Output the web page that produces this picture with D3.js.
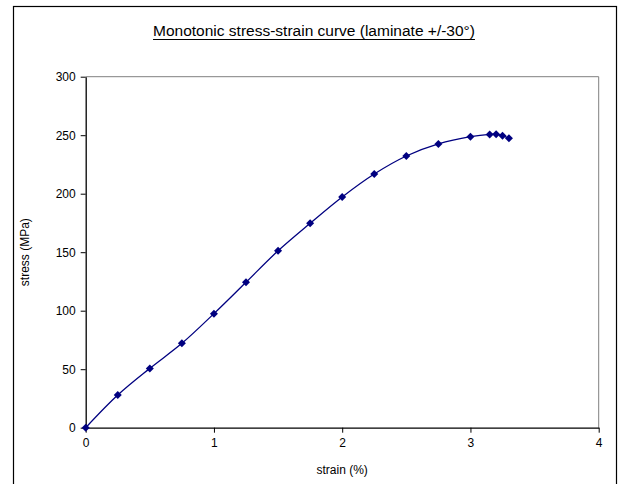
<!DOCTYPE html>
<html>
<head>
<meta charset="utf-8">
<script src="https://cdn.jsdelivr.net/npm/d3@7"></script>
<style>
  body { margin: 0; background: #fff; }
  text { font-family: "Liberation Sans", Arial, sans-serif; fill: #000; }
</style>
</head>
<body>
<div id="chart"></div>
<script>
const strain = [0, 0.25, 0.5, 0.75, 1.0, 1.25, 1.5, 1.75, 2.0, 2.25, 2.5, 2.75, 3.0, 3.15, 3.2, 3.25, 3.3];
const stress = [0, 27.9, 50.7, 72.1, 97.5, 124.3, 151.2, 174.7, 197.2, 216.8, 232.2, 242.5, 248.7, 250.7, 250.8, 249.6, 247.4];
const xTicks = [0, 1, 2, 3, 4];
const yTicks = [0, 50, 100, 150, 200, 250, 300];

const data = strain.map((s, i) => ({ strain: s, stress: stress[i] }));

const W = 618, H = 484;
const plot = { left: 85.7, right: 598.7, top: 76.7, bottom: 427.7 };

const svg = d3.select("#chart").append("svg")
  .attr("width", W)
  .attr("height", H);

// outer frame
svg.append("rect")
  .attr("x", 13.5).attr("y", 6.5)
  .attr("width", 603).attr("height", 490)
  .attr("fill", "none")
  .attr("stroke", "#000")
  .attr("stroke-width", 1.2);

const x = d3.scaleLinear().domain([0, 4]).range([plot.left, plot.right]);
const y = d3.scaleLinear().domain([0, 300]).range([plot.bottom, plot.top]);

// plot area top/right border
svg.append("path")
  .attr("d", `M${plot.left},${plot.top}H${plot.right}V${plot.bottom}`)
  .attr("fill", "none")
  .attr("stroke", "#808080")
  .attr("stroke-width", 1);

const xAxis = svg.append("g")
  .attr("transform", `translate(0,${plot.bottom})`)
  .call(d3.axisBottom(x).tickValues(xTicks).tickFormat(d3.format("d"))
    .tickSize(5).tickSizeOuter(0).tickPadding(6));

const yAxis = svg.append("g")
  .attr("transform", `translate(${plot.left},0)`)
  .call(d3.axisLeft(y).tickValues(yTicks).tickFormat(d3.format("d"))
    .tickSize(5).tickSizeOuter(0).tickPadding(5));

[xAxis, yAxis].forEach(g => {
  g.select(".domain").attr("stroke", "#000").attr("stroke-width", 1.3);
  g.selectAll(".tick line").attr("stroke", "#000");
  g.selectAll("text")
    .style("font-family", "'Liberation Sans', Arial, sans-serif")
    .style("font-size", "12px")
    .attr("fill", "#000");
});

const line = d3.line()
  .x(d => x(d.strain))
  .y(d => y(d.stress))
  .curve(d3.curveCatmullRom);

svg.append("path")
  .datum(data)
  .attr("d", line)
  .attr("fill", "none")
  .attr("stroke", "#000080")
  .attr("stroke-width", 1.3);

svg.selectAll(".pt")
  .data(data)
  .enter().append("path")
  .attr("class", "pt")
  .attr("transform", d => `translate(${x(d.strain)},${y(d.stress)})`)
  .attr("d", "M0,-4L4,0L0,4L-4,0Z")
  .attr("fill", "#000080");

// title
const title = svg.append("text")
  .attr("x", 314)
  .attr("y", 36)
  .attr("text-anchor", "middle")
  .style("font-size", "15.5px")
  .text("Monotonic stress-strain curve (laminate +/-30°)");

const tb = title.node().getBBox();
svg.append("line")
  .attr("x1", tb.x).attr("x2", tb.x + tb.width)
  .attr("y1", 39.5).attr("y2", 39.5)
  .attr("stroke", "#000")
  .attr("stroke-width", 1.2);

svg.append("text")
  .attr("x", (plot.left + plot.right) / 2)
  .attr("y", 474)
  .attr("text-anchor", "middle")
  .style("font-size", "12px")
  .text("strain (%)");

svg.append("text")
  .attr("transform", `translate(29,${(plot.top + plot.bottom) / 2}) rotate(-90)`)
  .attr("text-anchor", "middle")
  .style("font-size", "12px")
  .text("stress (MPa)");
</script>
</body>
</html>
